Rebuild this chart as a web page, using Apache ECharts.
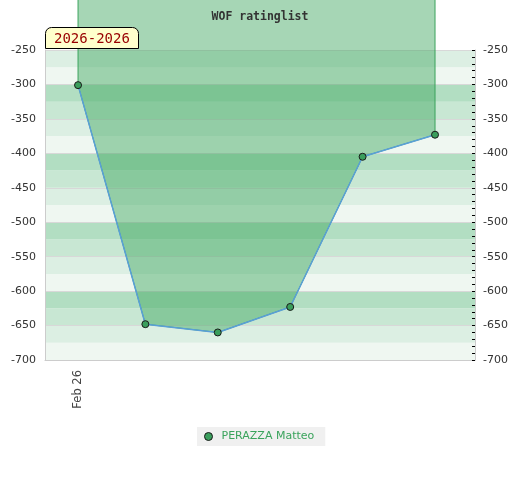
<!DOCTYPE html>
<html>
<head>
<meta charset="utf-8">
<script src="https://cdn.jsdelivr.net/npm/echarts@6/dist/echarts.min.js"></script>
<style>html,body{margin:0;padding:0;background:#fff}#c{width:520px;height:480px}</style>
</head>
<body>
<div id="c"></div>
<script>
// ---- data ----
var chartTitle = 'WOF ratinglist';
var seasonLabel = '2026-2026';
var playerName = 'PERAZZA Matteo';
var dayOffsets = [0, 6.6, 13.7, 20.8, 27.9, 35];      // days from first game (Feb 2026)
var ratings = [-301, -648, -660, -623, -405, -373];
var xLabelValues = [0];
var xLabelTexts = ['Feb 26'];
var yMin = -700, yMax = -250, yStep = 50, bandStep = 25;
var xMin = -3.24, xMax = 38.92;
var areaTop = -160;

var points = dayOffsets.map(function (d, i) { return [d, ratings[i]]; });

var chart = echarts.init(document.getElementById('c'), null, {renderer: 'canvas'});
var font = 'DejaVu Sans';
chart.setOption({
  animation: false,
  title: [{
    text: chartTitle, left: 'center', top: 6,
    textStyle: {fontFamily: 'DejaVu Sans Mono', fontWeight: 'bold', fontSize: 11.5, color: '#333'}
  }, {
    text: seasonLabel, left: 45, top: 27,
    backgroundColor: '#ffffcc', borderColor: '#000', borderWidth: 1,
    borderRadius: [6, 6, 0, 0], padding: [4, 9, 2, 9],
    textStyle: {fontFamily: 'DejaVu Sans Mono', fontWeight: 'normal', fontSize: 14, color: '#990000', lineHeight: 16}
  }],
  legend: {
    data: [{name: playerName, icon: 'circle'}], bottom: 34, left: 197,
    backgroundColor: '#f0f0f0', padding: [4, 11, 4, 7],
    itemWidth: 16, itemHeight: 8, itemGap: 10,
    itemStyle: {color: '#3a9e5c', borderColor: '#1a1a1a', borderWidth: 1},
    textStyle: {color: '#3aa35c', fontFamily: font, fontSize: 11}
  },
  grid: {left: 45, right: 45, top: 50, bottom: 120},
  xAxis: {
    type: 'value', min: xMin, max: xMax,
    axisLine: {show: true, lineStyle: {color: '#ccc'}},
    axisTick: {show: false},
    splitLine: {show: false},
    axisLabel: {
      customValues: xLabelValues, rotate: 90, margin: 10,
      color: '#444', fontFamily: font, fontSize: 11.5,
      formatter: function (v) { var i = xLabelValues.indexOf(v); return i >= 0 ? xLabelTexts[i] : ''; }
    }
  },
  yAxis: [{
    type: 'value', position: 'left', min: yMin, max: yMax, interval: bandStep,
    axisLine: {show: false}, axisTick: {show: false}, axisLabel: {show: false},
    splitLine: {show: false},
    splitArea: {show: true, areaStyle: {color: ['#eff7f1', '#dcefe3', '#c8e7d3', '#b2dec2']}}
  }, {
    type: 'value', position: 'left', min: yMin, max: yMax, interval: yStep,
    axisLine: {show: true, lineStyle: {color: '#ccc'}},
    axisTick: {show: false},
    axisLabel: {color: '#333', fontFamily: font, fontSize: 11, margin: 9},
    splitLine: {show: true, lineStyle: {color: '#d8d8d8'}},
    splitArea: {show: false}
  }, {
    type: 'value', position: 'right', min: yMin, max: yMax, interval: yStep,
    axisLine: {show: true, lineStyle: {color: '#ccc'}},
    axisTick: {show: true, inside: true, length: 3, lineStyle: {color: '#000'}},
    minorTick: {show: true, splitNumber: 5, length: 3, lineStyle: {color: '#000'}},
    axisLabel: {color: '#333', fontFamily: font, fontSize: 11, margin: 8},
    splitLine: {show: false}
  }],
  series: [{
    type: 'custom', yAxisIndex: 1, silent: true, clip: false, z: 2,
    data: [0],
    renderItem: function (params, api) {
      var pts = points.map(function (p) { return api.coord(p); });
      var first = api.coord([points[0][0], areaTop]);
      var last = api.coord([points[points.length - 1][0], areaTop]);
      var poly = [first].concat(pts).concat([last]);
      return {
        type: 'polygon',
        shape: {points: poly},
        style: {fill: 'rgba(57,163,92,0.45)', stroke: '#3aa35c', lineWidth: 1}
      };
    }
  }, {
    name: playerName, type: 'line', yAxisIndex: 1, z: 3,
    data: points,
    symbol: 'circle', symbolSize: 7,
    lineStyle: {color: '#5a9fd8', width: 1.5},
    itemStyle: {color: '#3a9e5c', borderColor: '#1a1a1a', borderWidth: 1}
  }]
});
</script>
</body>
</html>
